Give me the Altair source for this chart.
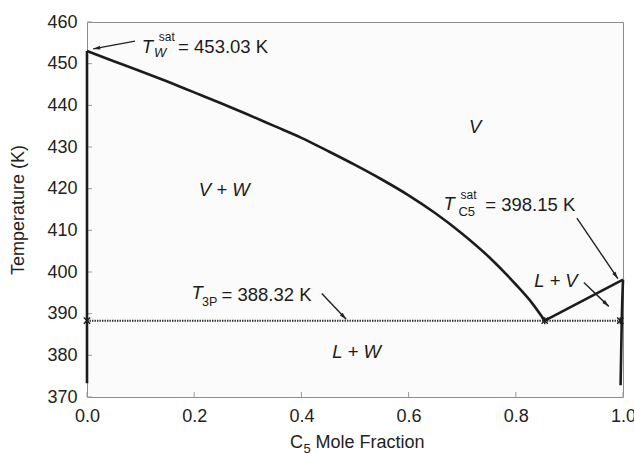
import altair as alt
import numpy as np
import pandas as pd

# ---- phase-boundary data -------------------------------------------------
# water dew-point curve (V | V+W boundary)
water_x = [0.0, 0.05, 0.1, 0.15, 0.2, 0.25, 0.3, 0.35, 0.4, 0.45, 0.5,
           0.55, 0.6, 0.65, 0.7, 0.75, 0.8, 0.83, 0.854]
water_T = [453.03, 450.6, 448.2, 445.7, 443.1, 440.5, 437.8, 435.0, 432.2,
           429.0, 425.7, 422.2, 418.4, 414.1, 409.2, 403.6, 397.0, 392.6, 388.32]
# pentane dew line (V | L+V boundary)
c5_x = [0.854, 1.0]
c5_T = [388.32, 398.15]
# liquid pentane edge
liq_x = [1.0, 0.998, 0.9965, 0.9955]
liq_T = [398.15, 390.0, 380.0, 372.8]
# pure water edge
edge_x = [0.0, 0.0]
edge_T = [453.03, 373.3]
# three-phase line and its end / junction points
T_3P = 388.32
three_phase_x = [0.0, 1.0]
marker_x = [0.0, 0.854, 0.995]

# axis ticks
x_ticks = [0.0, 0.2, 0.4, 0.6, 0.8, 1.0]
y_ticks = [370, 380, 390, 400, 410, 420, 430, 440, 450, 460]

# ---- annotations ---------------------------------------------------------
piece_text = ["T", "sat", "W", "= 453.03 K",
              "T", "sat", "C5", "= 398.15 K",
              "T", "3P", "= 388.32 K"]
piece_x = [0.102, 0.134, 0.125, 0.170,
           0.665, 0.697, 0.693, 0.743,
           0.195, 0.2146, 0.251]
piece_T = [454.1, 456.3, 452.6, 454.1,
           416.3, 418.6, 414.3, 416.2,
           394.85, 392.75, 394.6]
piece_size = [18.5, 12, 13, 18.5, 18.5, 12, 13, 18.5, 18.5, 12.5, 18.5]
piece_italic = [True, False, True, False,
                True, False, False, False,
                True, False, False]

region_text = ["V", "V + W", "L + W", "L + V"]
region_x = [0.724, 0.256, 0.503, 0.875]
region_T = [434.9, 419.8, 380.7, 397.95]

# arrows: tail -> head
arrow_x1 = [0.0896, 0.914, 0.927, 0.438]
arrow_T1 = [455.4, 412.95, 397.5, 394.85]
arrow_x2 = [0.0115, 0.9905, 0.9735, 0.4835]
arrow_T2 = [453.55, 398.4, 391.75, 388.65]

W, H = 536, 375
X_DOM = [0, 1]
Y_DOM = [370, 460]
INK = "#1c1c1c"
FONT = "Liberation Sans"

xs = alt.Scale(domain=X_DOM, nice=False, zero=False)
ys = alt.Scale(domain=Y_DOM, nice=False, zero=False)

# ---- tables --------------------------------------------------------------
def series(name, xv, tv):
    return pd.DataFrame({"x": xv, "T": tv, "series": name, "order": range(len(xv))})

curves = pd.concat([
    series("water", water_x, water_T),
    series("c5", c5_x, c5_T),
    series("liquid", liq_x, liq_T),
    series("edge", edge_x, edge_T),
], ignore_index=True)

tp = pd.DataFrame({"x": three_phase_x, "T": [T_3P] * len(three_phase_x)})
marks_df = pd.DataFrame({"x": marker_x, "T": [T_3P] * len(marker_x)})

arrows = pd.DataFrame({"x": arrow_x1, "T": arrow_T1, "x2": arrow_x2, "T2": arrow_T2})
dxp = (arrows["x2"] - arrows["x"]) / (X_DOM[1] - X_DOM[0]) * W
dyp = -(arrows["T2"] - arrows["T"]) / (Y_DOM[1] - Y_DOM[0]) * H
arrows["angle"] = (np.degrees(np.arctan2(dxp, -dyp)) + 360) % 360

pieces = pd.DataFrame({"x": piece_x, "T": piece_T, "text": piece_text,
                       "size": piece_size, "italic": piece_italic})
regions = pd.DataFrame({"x": region_x, "T": region_T, "text": region_text})

xt = pd.DataFrame({"x": x_ticks})
yt = pd.DataFrame({"T": y_ticks})

# ---- layers --------------------------------------------------------------
x_axis = alt.Axis(values=x_ticks, format=".1f", ticks=False, domain=False, grid=False,
                  labelFontSize=18, labelColor="#222", labelFont=FONT, labelPadding=10,
                  labelFlush=False, title=None)
y_axis = alt.Axis(values=y_ticks, ticks=False, domain=False, grid=False,
                  labelFontSize=18, labelColor="#222", labelFont=FONT, labelPadding=10,
                  labelFlush=False,
                  title="Temperature (K)", titleFont=FONT, titleFontSize=18,
                  titleFontWeight="normal", titleColor="#222",
                  titleAngle=270, titleX=-69, titleY=H / 2,
                  titleAlign="center", titleBaseline="middle")

base_axes = alt.Chart(xt).mark_rule(opacity=0).encode(
    x=alt.X("x:Q", scale=xs, axis=x_axis),
)
base_axes_y = alt.Chart(yt).mark_rule(opacity=0).encode(
    y=alt.Y("T:Q", scale=ys, axis=y_axis),
)

xtick = alt.Chart(xt).mark_rule(color="#9a9a9a", strokeWidth=1).encode(
    x=alt.X("x:Q", scale=xs), y=alt.value(H), y2=alt.value(H - 5)
)
ytick = alt.Chart(yt).mark_rule(color="#9a9a9a", strokeWidth=1).encode(
    y=alt.Y("T:Q", scale=ys), x=alt.value(0), x2=alt.value(5)
)

dotted = alt.Chart(tp).mark_line(color="#2a2a2a", strokeWidth=2, strokeDash=[1.4, 1.1]).encode(
    x=alt.X("x:Q", scale=xs), y=alt.Y("T:Q", scale=ys)
)

lines = alt.Chart(curves).mark_line(color=INK, strokeWidth=2.6, interpolate="monotone").encode(
    x=alt.X("x:Q", scale=xs), y=alt.Y("T:Q", scale=ys),
    detail="series:N", order="order:Q"
)

xmarks = alt.Chart(marks_df).mark_point(
    shape="M-1,-1L1,1M-1,1L1,-1M0,-1.1L0,1.1", filled=False, color=INK,
    strokeWidth=1.4, size=40, opacity=1
).encode(x=alt.X("x:Q", scale=xs), y=alt.Y("T:Q", scale=ys))

shafts = alt.Chart(arrows).mark_rule(color="#222", strokeWidth=1.4).encode(
    x=alt.X("x:Q", scale=xs), y=alt.Y("T:Q", scale=ys),
    x2="x2:Q", y2="T2:Q"
)
heads = alt.Chart(arrows).mark_point(
    shape="M0,0L-0.55,2L0.55,2Z", filled=True, color="#222", size=50, opacity=1
).encode(
    x=alt.X("x2:Q", scale=xs), y=alt.Y("T2:Q", scale=ys),
    angle=alt.Angle("angle:Q", scale=None)
)

txt_it = alt.Chart(pieces[pieces["italic"]]).mark_text(
    align="left", baseline="middle", font=FONT, fontStyle="italic", color=INK
).encode(x=alt.X("x:Q", scale=xs), y=alt.Y("T:Q", scale=ys), text="text:N",
         size=alt.Size("size:Q", scale=None))
txt_up = alt.Chart(pieces[~pieces["italic"]]).mark_text(
    align="left", baseline="middle", font=FONT, color=INK
).encode(x=alt.X("x:Q", scale=xs), y=alt.Y("T:Q", scale=ys), text="text:N",
         size=alt.Size("size:Q", scale=None))
txt_reg = alt.Chart(regions).mark_text(
    align="center", baseline="middle", font=FONT, fontStyle="italic", fontSize=18.5, color=INK
).encode(x=alt.X("x:Q", scale=xs), y=alt.Y("T:Q", scale=ys), text="text:N")

# x-axis title with subscript
title_df = pd.DataFrame({"t": ["C", "5", "Mole Fraction"],
                         "px": [203, 216.5, 228.5],
                         "py": [H + 45.5, H + 51.5, H + 45.5],
                         "fs": [18, 13, 18]})
xtitle = alt.Chart(title_df).mark_text(
    align="left", baseline="middle", font=FONT, color="#222"
).encode(x=alt.X("px:Q", scale=None), y=alt.Y("py:Q", scale=None), text="t:N",
         size=alt.Size("fs:Q", scale=None))

chart = alt.layer(
    base_axes, base_axes_y, xtick, ytick, dotted, lines, xmarks,
    shafts, heads, txt_it, txt_up, txt_reg, xtitle
).resolve_scale(size="independent").properties(
    width=W, height=H,
    autosize=alt.AutoSizeParams(type="none"),
    padding={"left": 87, "top": 22, "right": 11, "bottom": 57},
    background="white",
).configure_view(
    stroke="#8c8c8c", strokeWidth=1, fill="#fbfbfb"
)

chart.save("out.html", embed_options={"renderer": "svg", "actions": False})
